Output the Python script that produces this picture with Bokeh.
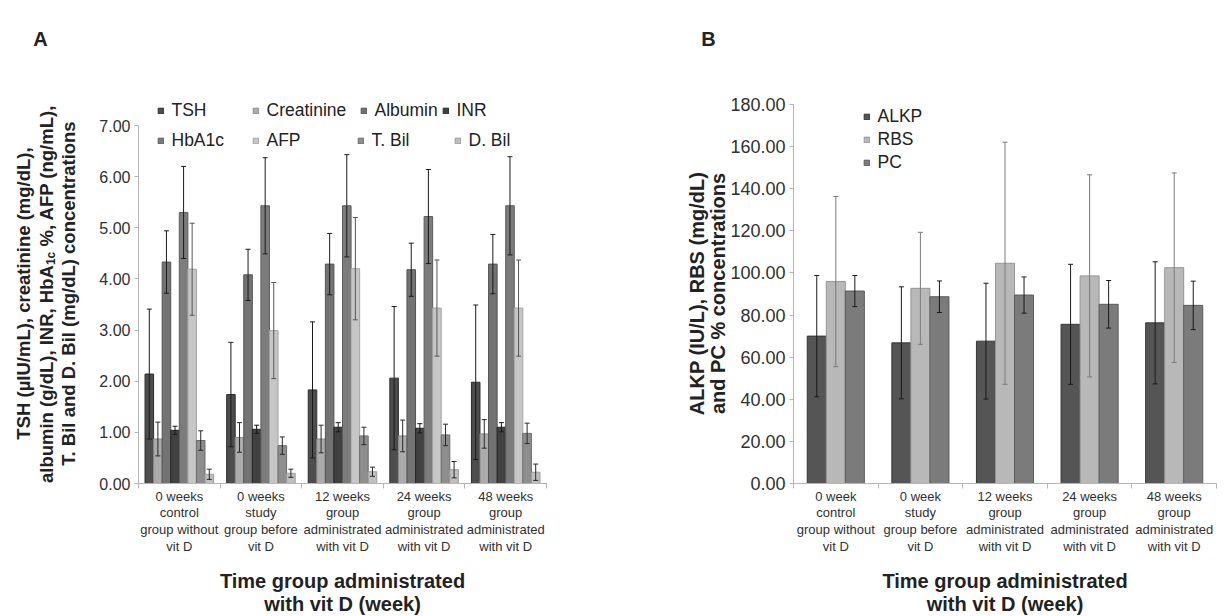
from math import pi
from bokeh.plotting import figure
from bokeh.models import (ColumnDataSource, Whisker, TeeHead, Legend, LegendItem, Label,
                          FixedTicker, NumeralTickFormatter, Range1d)
from bokeh.layouts import row
from bokeh.embed import file_html
from bokeh.resources import INLINE

FONT = "Liberation Sans"

# ---------------- data: panel A ----------------
groups_a = ["0 weeks\ncontrol\ngroup without\nvit D",
            "0 weeks\nstudy\ngroup before\nvit D",
            "12 weeks\ngroup\nadministrated\nwith vit D",
            "24 weeks\ngroup\nadministrated\nwith vit D",
            "48 weeks\ngroup\nadministrated\nwith vit D"]
series_a = ["TSH", "Creatinine", "Albumin", "INR", "HbA1c", "AFP", "T. Bil", "D. Bil"]
tsh = [2.14, 1.74, 1.83, 2.06, 1.98]
tsh_sd = [1.27, 1.02, 1.33, 1.40, 1.51]
creatinine = [0.87, 0.90, 0.87, 0.93, 0.97]
creatinine_sd = [0.33, 0.29, 0.27, 0.31, 0.28]
albumin = [4.33, 4.08, 4.29, 4.18, 4.29]
albumin_sd = [0.61, 0.50, 0.60, 0.52, 0.58]
inr = [1.04, 1.06, 1.10, 1.08, 1.10]
inr_sd = [0.08, 0.08, 0.09, 0.09, 0.09]
hba1c = [5.30, 5.43, 5.43, 5.22, 5.43]
hba1c_sd = [0.90, 0.94, 1.00, 0.92, 0.96]
afp = [4.19, 2.99, 4.20, 3.43, 3.43]
afp_sd = [0.90, 0.94, 1.00, 0.94, 0.94]
tbil = [0.84, 0.74, 0.93, 0.95, 0.98]
tbil_sd = [0.19, 0.17, 0.17, 0.21, 0.20]
dbil = [0.18, 0.20, 0.23, 0.27, 0.22]
dbil_sd = [0.10, 0.08, 0.09, 0.16, 0.16]
yticks_a = [0, 1, 2, 3, 4, 5, 6, 7]

# ---------------- data: panel B ----------------
groups_b = ["0 week\ncontrol\ngroup without\nvit D",
            "0 week\nstudy\ngroup before\nvit D",
            "12 weeks\ngroup\nadministrated\nwith vit D",
            "24 weeks\ngroup\nadministrated\nwith vit D",
            "48 weeks\ngroup\nadministrated\nwith vit D"]
series_b = ["ALKP", "RBS", "PC"]
alkp = [70.0, 66.8, 67.6, 75.6, 76.3]
alkp_sd = [28.8, 26.6, 27.5, 28.5, 29.0]
rbs = [95.9, 92.7, 104.6, 98.6, 102.5]
rbs_sd = [40.4, 26.6, 57.5, 48.0, 45.0]
pc = [91.4, 88.7, 89.5, 85.1, 84.6]
pc_sd = [7.4, 7.5, 8.6, 11.3, 11.5]
yticks_b = [0, 20, 40, 60, 80, 100, 120, 140, 160, 180]

xtitle = "Time group administrated\nwith vit D (week)"

# ---------------- styles ----------------
fill_a = ["#4d4d4d", "#ababab", "#737373", "#414141", "#7c7c7c", "#c6c6c6", "#8e8e8e", "#bfbfbf"]
line_a = ["#2e2e2e", "#8a8a8a", "#545454", "#262626", "#5c5c5c", "#a4a4a4", "#6c6c6c", "#9c9c9c"]
err_a = ["#1a1a1a", "#2a2a2a", "#1a1a1a", "#1a1a1a", "#1a1a1a", "#555555", "#2a2a2a", "#2a2a2a"]
fill_b = ["#555555", "#b8b8b8", "#7b7b7b"]
line_b = ["#363636", "#959595", "#5a5a5a"]
err_b = ["#1a1a1a", "#7a7a7a", "#1a1a1a"]

# ---------------- common vertical geometry (page px) ----------------
TOP, BOTTOM, H = 20, 483, 614          # frame top / frame bottom / canvas height
FH = BOTTOM - TOP


def side_fig(x0, x1):
    # blank figure whose data coordinates are page pixels
    p = figure(frame_width=x1 - x0, frame_height=FH, x_range=Range1d(x0, x1),
               y_range=Range1d(BOTTOM, TOP), min_border_left=0, min_border_right=0,
               min_border_top=TOP, min_border_bottom=H - BOTTOM,
               x_axis_location=None, y_axis_location=None,
               output_backend="svg", toolbar_location=None, tools="",
               outline_line_color=None, background_fill_color="white",
               border_fill_color="white")
    p.grid.visible = False
    return p


def lab(p, text, x, y, size="20px", angle=0.0, align="center", bold=True):
    p.add_layout(Label(x=x, y=y, text=text, angle=angle, text_align=align,
                       text_baseline="middle", text_font=FONT, text_font_size=size,
                       text_font_style="bold" if bold else "normal", text_color="#222222"))


def base_fig(fw, left, right, ymax):
    p = figure(frame_width=fw, frame_height=FH, min_border_left=left, min_border_right=right,
               min_border_top=TOP, min_border_bottom=H - BOTTOM, x_range=Range1d(0, 5),
               y_range=Range1d(0, ymax), output_backend="svg", toolbar_location=None,
               tools="", outline_line_color=None, background_fill_color="white",
               border_fill_color="white")
    p.xgrid.visible = False
    p.ygrid.visible = False
    return p


def style_axes(p, groups, yticks, ytick_size):
    centers = [i + 0.5 for i in range(len(groups))]
    p.xaxis.ticker = FixedTicker(ticks=centers, minor_ticks=list(range(len(groups) + 1)))
    p.xaxis.major_label_overrides = {c: g for c, g in zip(centers, groups)}
    p.xaxis.major_tick_line_color = None
    p.xaxis.major_tick_out = 0
    p.xaxis.major_tick_in = 0
    p.xaxis.minor_tick_out = 5
    p.xaxis.minor_tick_in = 0
    p.xaxis.minor_tick_line_color = "#b5b5b5"
    p.xaxis.axis_line_color = "#b5b5b5"
    p.xaxis.major_label_standoff = 0
    p.xaxis.major_label_text_font = FONT
    p.xaxis.major_label_text_font_size = "13px"
    p.xaxis.major_label_text_color = "#303030"
    p.xaxis.major_label_text_line_height = 1.12
    p.xaxis.axis_label = xtitle
    p.xaxis.axis_label_standoff = 13
    p.xaxis.axis_label_text_font = FONT
    p.xaxis.axis_label_text_font_size = "20px"
    p.xaxis.axis_label_text_font_style = "bold"
    p.xaxis.axis_label_text_color = "#222222"
    p.xaxis.axis_label_text_line_height = 1.05

    p.yaxis.ticker = FixedTicker(ticks=yticks)
    p.yaxis.bounds = (yticks[0], yticks[-1])
    p.yaxis.formatter = NumeralTickFormatter(format="0.00")
    p.yaxis.major_tick_out = 4
    p.yaxis.major_tick_in = 0
    p.yaxis.minor_tick_line_color = None
    p.yaxis.major_tick_line_color = "#b5b5b5"
    p.yaxis.axis_line_color = "#b5b5b5"
    p.yaxis.major_label_standoff = 4
    p.yaxis.major_label_text_font = FONT
    p.yaxis.major_label_text_font_size = ytick_size
    p.yaxis.major_label_text_color = "#303030"


def add_series(p, vals, sds, offset, width, fill, line, err):
    xs = [i + 0.5 + offset for i in range(len(vals))]
    src = ColumnDataSource(dict(x=xs, top=vals,
                                upper=[v + s for v, s in zip(vals, sds)],
                                lower=[v - s for v, s in zip(vals, sds)]))
    r = p.vbar(x="x", top="top", width=width, bottom=0, source=src,
               fill_color=fill, line_color=line, line_width=1)
    w = Whisker(source=src, base="x", upper="upper", lower="lower",
                line_color=err, line_width=1, level="overlay",
                upper_head=TeeHead(size=5, line_color=err, line_width=1),
                lower_head=TeeHead(size=5, line_color=err, line_width=1))
    p.add_layout(w)
    return r


def make_legend(items, x, y, spacing=0):
    return Legend(items=items, location=(x, y), orientation="vertical",
                  padding=0, margin=0, spacing=spacing,
                  border_line_color=None, background_fill_alpha=0,
                  glyph_width=7, glyph_height=7, label_standoff=8, label_height=18,
                  label_text_font=FONT, label_text_font_size="17.5px",
                  label_text_color="#222222", label_text_baseline="middle")


# ================= panel A =================
# page: sideA 0..85 | pa 85..660 (frame x 138..546); 0.00 at y=483, 7.00 at y=125
side_a = side_fig(0, 85)
lab(side_a, "A", 40, 38)
YT = "18.5px"
lab(side_a, "TSH (\u00b5IU/mL), creatinine (mg/dL),", 23, 293, size=YT, angle=pi / 2)
lab(side_a, "albumin (g/dL), INR, HbA", 45.5, 482.5, size=YT, angle=pi / 2, align="left")
lab(side_a, "1c", 50, 264.6, size="12px", angle=pi / 2, align="left")
lab(side_a, "%, AFP (ng/mL),", 45.5, 246.0, size=YT, angle=pi / 2, align="left")
lab(side_a, "T. Bil and D. Bil (mg/dL) concentrations", 68, 293, size=YT, angle=pi / 2)

FL_A, FB_A = 138.0, 483.0
pxu_a = (483 - 125) / 7.0
pa = base_fig(408, 53, 114, (BOTTOM - TOP) / pxu_a)
style_axes(pa, groups_a, yticks_a, "16px")
vals_a = [tsh, creatinine, albumin, inr, hba1c, afp, tbil, dbil]
sds_a = [tsh_sd, creatinine_sd, albumin_sd, inr_sd, hba1c_sd, afp_sd, tbil_sd, dbil_sd]
bw_a = 0.105
rend_a = []
for j in range(8):
    rend_a.append(add_series(pa, vals_a[j], sds_a[j], (j - 3.5) * bw_a, bw_a,
                             fill_a[j], line_a[j], err_a[j]))

leg_pos_a = [(160, 112), (255, 112), (363, 112), (445, 112),
             (160, 142), (255, 142), (360, 142), (457, 142)]
for j, (mx, my) in enumerate(leg_pos_a):
    pa.add_layout(make_legend([LegendItem(label=series_a[j], renderers=[rend_a[j]])],
                              mx - 3.5 - FL_A, FB_A - (my + 9)))

# ================= panel B =================
# page: sideB 660..727 | pb 727..1225 (frame x 790..1213); 0.00 at y=483, 180 at y=104
side_b = side_fig(660, 727)
lab(side_b, "B", 708, 38)
lab(side_b, "ALKP (IU/L), RBS (mg/dL)", 696, 293, angle=pi / 2)
lab(side_b, "and PC % concentrations", 717, 293, angle=pi / 2)

FL_B, FB_B = 790.0, 483.0
pxu_b = (483 - 104) / 180.0
pb = base_fig(423, 63, 12, (BOTTOM - TOP) / pxu_b)
style_axes(pb, groups_b, yticks_b, "18px")
vals_b = [alkp, rbs, pc]
sds_b = [alkp_sd, rbs_sd, pc_sd]
bw_b = 0.225
rend_b = []
for j in range(3):
    rend_b.append(add_series(pb, vals_b[j], sds_b[j], (j - 1) * bw_b, bw_b,
                             fill_b[j], line_b[j], err_b[j]))

pb.add_layout(make_legend([LegendItem(label=series_b[j], renderers=[rend_b[j]]) for j in range(3)],
                          863 - 3.5 - FL_B, FB_B - 173, spacing=2))

layout = row(side_a, pa, side_b, pb)
open("out.html", "w").write(file_html(layout, INLINE))
